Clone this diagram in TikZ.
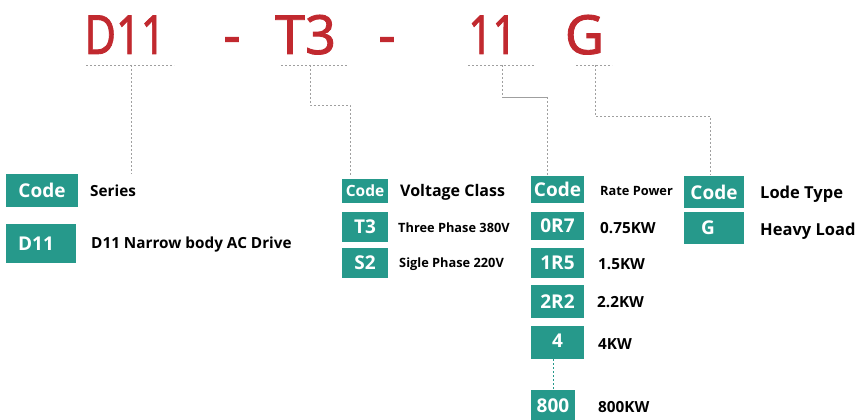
\documentclass[tikz,border=0pt]{standalone}
\usepackage{fontspec}
\setmainfont{Open Sans}
\newfontfamily\headfont{Noto Sans}[FakeBold=1.6]
\usetikzlibrary{positioning}

\definecolor{codeteal}{HTML}{26998B}
\definecolor{codered}{HTML}{C1292F}

\begin{document}
\begin{tikzpicture}[
    x=1pt, y=-1pt,
    head/.style={text=codered, font=\headfont\fontsize{54}{54}\selectfont,
        inner sep=0pt, anchor=base},
    dotline/.style={gray!75, line width=0.8pt, dash pattern=on 2pt off 2pt},
    codebox/.style={fill=codeteal, text=white, inner sep=0pt,
        font=\bfseries\fontsize{19}{19}\selectfont},
    desc/.style={anchor=west, inner sep=0pt,
        font=\bfseries\fontsize{15.3}{15.3}\selectfont},
    small/.style={desc, font=\bfseries\fontsize{12.8}{12.8}\selectfont}
]
\useasboundingbox (0,0) rectangle (855,420);

% model string
\node[head] (hD11) at (125,54) {\scalebox{0.8}[1]{D11}};
\node[head] (dash1) at (232,54) {-};
\node[head] (hT3) at (305.5,54) {T3};
\node[head] (dash2) at (387,54) {-};
\node[head] (h11) at (492.5,54) {\scalebox{0.78}[1]{11}};
\node[head] (hG) at (584.5,54) {G};

% underlines
\draw[dotline] (86,65) -- (174,65);
\draw[dotline] (281,65) -- (348,65);
\draw[dotline] (468,65) -- (535,65);
\draw[dotline] (576,65) -- (612,65);
\coordinate (uD11) at (131,65);
\coordinate (uT3) at (310,65);
\coordinate (u11) at (502,65);
\coordinate (uG) at (595,65);

% series
\node[codebox, minimum width=72pt, minimum height=33pt] (sCode) at (42,190.5) {Code};
\node[codebox, minimum width=70pt, minimum height=39pt] (sD11) at (41,243.5) {\hspace*{-10pt}D11};
\node[desc] (sSeries) at (90,191) {Series};
\node[desc] (sNarrow) at (91,245) {D11 Narrow body AC Drive};

% voltage class
\node[codebox, minimum width=46pt, minimum height=24pt,
    font=\bfseries\fontsize{15.5}{15.5}\selectfont] (vCode) at (365,191) {Code};
\node[codebox, minimum width=46pt, minimum height=30pt] (vT3) at (365,227) {T3};
\node[codebox, minimum width=46pt, minimum height=30pt] (vS2) at (365,263) {S2};
\node[desc, font=\bfseries\fontsize{16}{16}\selectfont] (vClass) at (400,192) {Voltage Class};
\node[small] (vThree) at (398,228) {Three Phase 380V};
\node[small] (vSingle) at (399,264) {Sigle Phase 220V};

% rate power
\node[codebox, minimum width=53pt, minimum height=27pt] (pCode) at (557.5,189.5) {Code};
\node[codebox, minimum width=53pt, minimum height=28pt] (p0R7) at (557.5,226) {0R7};
\node[codebox, minimum width=53pt, minimum height=30pt] (p1R5) at (557.5,263) {1R5};
\node[codebox, minimum width=53pt, minimum height=33pt] (p2R2) at (557.5,301.5) {2R2};
\node[codebox, minimum width=53pt, minimum height=33pt] (p4) at (557.5,342.5) {\raisebox{4pt}{4}};
\node[codebox, minimum width=44pt, minimum height=32pt] (p800) at (553,406) {800};
\node[small] (pRate) at (600,191) {Rate Power};
\node[desc] (pK0R7) at (600,228) {0.75KW};
\node[desc] (pK1R5) at (598,264) {1.5KW};
\node[desc] (pK2R2) at (597,302) {2.2KW};
\node[desc] (pK4) at (598,344) {4KW};
\node[desc] (pK800) at (598,407) {800KW};

% lode type
\node[codebox, minimum width=60pt, minimum height=32pt] (lCode) at (714,192) {Code};
\node[codebox, minimum width=60pt, minimum height=32pt] (lG) at (714,228) {\hspace*{-12pt}G};
\node[desc, font=\bfseries\fontsize{16.5}{16.5}\selectfont] (lType) at (760,194) {Lode Type};
\node[desc, font=\bfseries\fontsize{16.5}{16.5}\selectfont] (lHeavy) at (760,231) {Heavy Load};

% leaders
\draw[dotline] (uD11) -- (uD11 |- sCode.north);
\draw[dotline] (uT3) |- (350,105) -- (350,175);
\draw[dotline] (u11) -- (502,97);
\draw[gray!75, line width=0.8pt] (502,97) -- (547,97);
\draw[dotline] (547,97) -- (547,175);
\draw[dotline] (uG) |- (710,116) -- (710,175);
\draw[codeteal, line width=0.8pt, dash pattern=on 2pt off 2pt] (p4.south -| 553,0) -- (p800.north);
\end{tikzpicture}
\end{document}
